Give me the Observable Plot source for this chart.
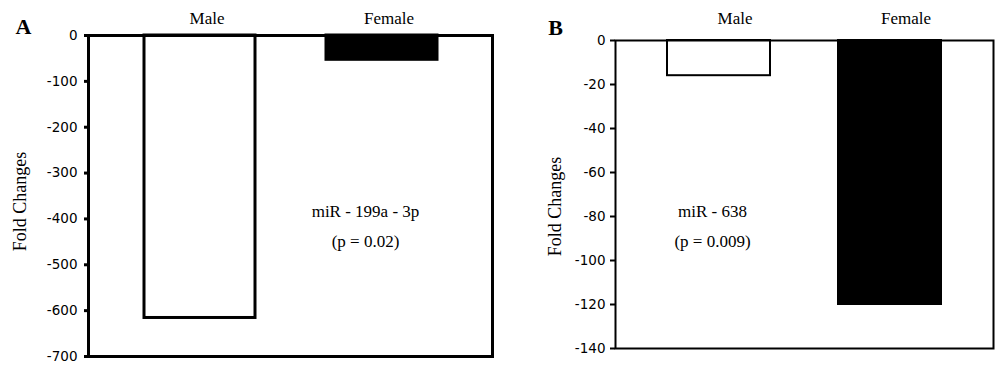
<!DOCTYPE html>
<html>
<head>
<meta charset="utf-8">
<script src="https://cdn.jsdelivr.net/npm/d3@7"></script>
<script src="https://cdn.jsdelivr.net/npm/@observablehq/plot@0.6"></script>
<style>
  html, body { margin: 0; padding: 0; background: #fff; }
  #wrap { position: relative; width: 1000px; height: 380px; overflow: hidden; }
  #a, #b { position: absolute; top: 0; }
  #a { left: 0; }
  #b { left: 500px; }
</style>
</head>
<body>
<div id="wrap"><div id="a"></div><div id="b"></div></div>
<script>
const categories = ["Male", "Female"];
const valuesA = [-616, -53];
const valuesB = [-16, -120];
const ticksA = [0, -100, -200, -300, -400, -500, -600, -700];
const ticksB = [0, -20, -40, -60, -80, -100, -120, -140];
const yLabel = "Fold Changes";
const panelA = "A";
const panelB = "B";
const noteA = "miR - 199a - 3p\n(p = 0.02)";
const noteB = "miR - 638\n(p = 0.009)";

const dataA = categories.map((c, i) => ({sex: c, value: valuesA[i]}));
const dataB = categories.map((c, i) => ({sex: c, value: valuesB[i]}));

const serif = "'Liberation Serif', 'Times New Roman', serif";
const sans = "'DejaVu Sans', Verdana, sans-serif";

function panel(opts) {
  return Plot.plot({
    width: 500,
    height: 380,
    marginLeft: opts.ml,
    marginRight: opts.mr,
    marginTop: opts.mt,
    marginBottom: opts.mb,
    style: {fontFamily: sans, fontSize: "13px", color: "black", background: "white", overflow: "visible"},
    x: {type: "band", domain: categories, paddingInner: opts.pi, paddingOuter: opts.po, axis: null},
    y: {domain: opts.domain, axis: null},
    color: {type: "identity"},
    marks: [
      Plot.barY(opts.data, {
        x: "sex", y1: 0, y2: "value",
        fill: d => d.sex === "Male" ? "white" : "black",
        stroke: "black", strokeWidth: opts.sw
      }),
      Plot.frame({stroke: "black", strokeWidth: opts.sw}),
      Plot.axisY({
        ticks: opts.ticks, tickSize: opts.ts, tickPadding: opts.tp,
        tickFormat: d => String(d), strokeWidth: opts.sw, label: null,
        fontSize: 13.5, fill: "black"
      }),
      Plot.text(categories, {
        x: d => d, text: d => d, frameAnchor: "top", lineAnchor: "middle",
        dy: opts.catDy, dx: opts.catDx,
        fontFamily: serif, fontSize: 17, fill: "black"
      }),
      Plot.text([opts.letter], {
        text: d => d, frameAnchor: "top-left", lineAnchor: "middle", textAnchor: "middle",
        dx: opts.letDx, dy: opts.letDy,
        fontFamily: serif, fontWeight: "bold", fontSize: 22, fill: "black"
      }),
      Plot.text([yLabel], {
        text: d => d, frameAnchor: "left", lineAnchor: "middle", textAnchor: "middle",
        rotate: -90, dx: opts.ylDx, dy: opts.ylDy,
        fontFamily: serif, fontSize: 18, fill: "black"
      }),
      Plot.text([opts.note], {
        text: d => d, frameAnchor: "middle", dx: opts.nDx, dy: opts.nDy,
        lineHeight: 1.75,
        fontFamily: serif, fontSize: 17, fill: "black"
      })
    ]
  });
}

document.getElementById("a").append(panel({
  data: dataA, domain: [-700, 0], ticks: ticksA, letter: panelA, note: noteA,
  ml: 88, mr: 8, mt: 35, mb: 24, pi: 0.392, po: 0.303, sw: 3, ts: 4, tp: 7,
  catDy: -17, catDx: 7, letDx: -65, letDy: -9, ylDx: -68, ylDy: 5.5, nDx: 75, nDy: 26.5
}));

document.getElementById("b").append(panel({
  data: dataB, domain: [-140, 0], ticks: ticksB, letter: panelB, note: noteB,
  ml: 115, mr: 7, mt: 40, mb: 32, pi: 0.4, po: 0.302, sw: 2, ts: 5, tp: 5,
  catDy: -22, catDx: 16, letDx: -60, letDy: -13, ylDx: -60, ylDy: 12, nDx: -92, nDy: 28
}));
</script>
</body>
</html>
